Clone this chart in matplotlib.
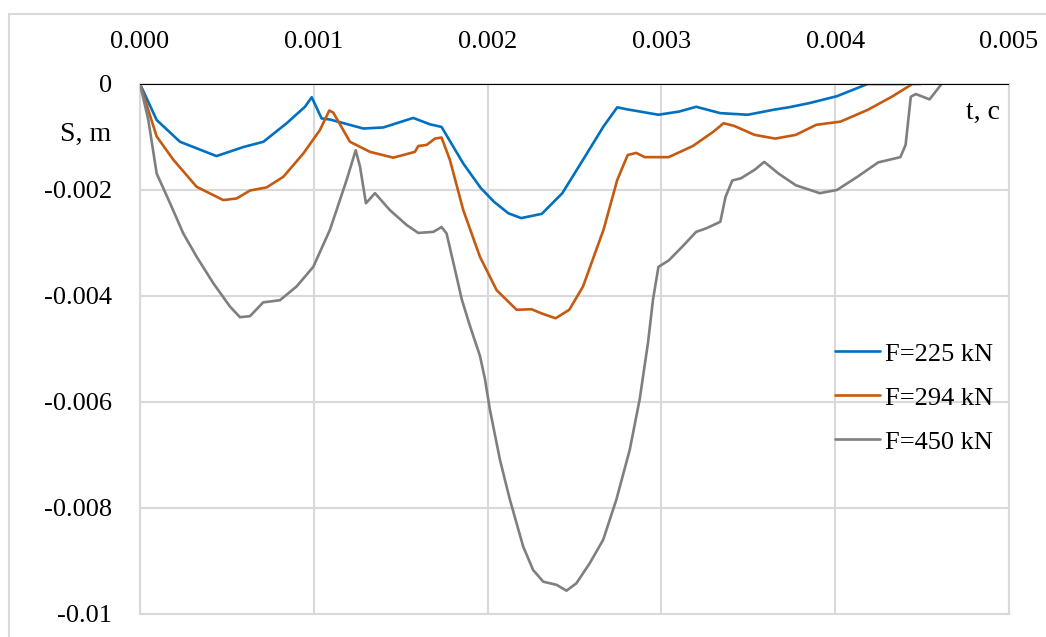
import matplotlib.pyplot as plt
from matplotlib.patches import Rectangle

# data (t in s, S in m)
t_225 = [0, 0.000096, 0.00023, 0.00044, 0.000594, 0.00071, 0.000844, 0.000949,
         0.000988, 0.001045, 0.001093, 0.001285, 0.0014, 0.001572, 0.001668,
         0.001735, 0.00186, 0.00196, 0.002036, 0.00212, 0.002193, 0.002312,
         0.00243, 0.002549, 0.002667, 0.002746, 0.002806, 0.002983, 0.003102,
         0.0032, 0.003339, 0.003497, 0.003655, 0.003733, 0.003852, 0.00401,
         0.004186, 0.004405]
s_225 = [0, -0.00068, -0.00109, -0.00136, -0.00119, -0.00109, -0.00074, -0.00043,
         -0.00025, -0.00065, -0.00067, -0.00084, -0.00082, -0.00064, -0.00076,
         -0.00081, -0.0015, -0.00196, -0.00222, -0.00244, -0.00253, -0.00245,
         -0.00206, -0.00143, -0.0008, -0.00044, -0.00048, -0.00058, -0.00052,
         -0.00043, -0.00055, -0.00058, -0.00048, -0.00044, -0.00036, -0.00023,
         0, 0]

t_294 = [0, 0.000096, 0.000192, 0.000326, 0.000479, 0.000556, 0.000633, 0.000729,
         0.000825, 0.00094, 0.001035, 0.001089, 0.001112, 0.001208, 0.001323,
         0.001457, 0.001582, 0.001601, 0.001649, 0.001697, 0.001735, 0.001783,
         0.00186, 0.001956, 0.002052, 0.002167, 0.002253, 0.002312, 0.002391,
         0.00247, 0.002549, 0.002667, 0.002746, 0.002806, 0.002855, 0.002904,
         0.003042, 0.003181, 0.003299, 0.003358, 0.003418, 0.003536, 0.003655,
         0.003773, 0.003891, 0.00403, 0.004186, 0.004326, 0.004444, 0.004494]
s_294 = [0, -0.00099, -0.00143, -0.00194, -0.00219, -0.00216, -0.00201, -0.00195,
         -0.00175, -0.00131, -0.00087, -0.0005, -0.00054, -0.00109, -0.00128,
         -0.00139, -0.00128, -0.00117, -0.00115, -0.00103, -0.00101, -0.00143,
         -0.00238, -0.00326, -0.00389, -0.00426, -0.00425, -0.00433, -0.00442,
         -0.00426, -0.00382, -0.00275, -0.00181, -0.00134, -0.0013, -0.00138,
         -0.00138, -0.00117, -0.0009, -0.00074, -0.00079, -0.00096, -0.00103,
         -0.00096, -0.00077, -0.00071, -0.00049, -0.00024, 0, 0]

t_450 = [0, 0.000048, 0.000096, 0.000173, 0.000249, 0.000326, 0.000422, 0.000518,
         0.000575, 0.000633, 0.000709, 0.000805, 0.000901, 0.000997, 0.001093,
         0.001189, 0.001241, 0.001266, 0.0013, 0.001352, 0.001438, 0.001534,
         0.001601, 0.001688, 0.001735, 0.001764, 0.001822, 0.001851, 0.001898,
         0.001956, 0.001985, 0.002013, 0.002071, 0.002128, 0.002205, 0.002262,
         0.00232, 0.002397, 0.002454, 0.002511, 0.002588, 0.002665, 0.002741,
         0.002818, 0.002875, 0.002923, 0.002952, 0.002983, 0.003042, 0.00312,
         0.0032, 0.00326, 0.003339, 0.003369, 0.003408, 0.003457, 0.003536,
         0.003592, 0.003674, 0.003773, 0.003911, 0.00401, 0.004128, 0.004247,
         0.004375, 0.004405, 0.004435, 0.004464, 0.004543, 0.004612]
s_450 = [0, -0.00068, -0.00169, -0.00225, -0.00282, -0.00326, -0.00376, -0.0042,
         -0.0044, -0.00438, -0.00412, -0.00408, -0.00382, -0.00345, -0.00275,
         -0.00181, -0.00125, -0.00156, -0.00225, -0.00206, -0.00238, -0.00266,
         -0.00281, -0.00279, -0.0027, -0.00282, -0.00364, -0.00406, -0.00456,
         -0.00513, -0.00557, -0.00614, -0.00709, -0.00784, -0.00873, -0.00917,
         -0.00939, -0.00945, -0.00956, -0.00942, -0.00904, -0.0086, -0.00784,
         -0.0069, -0.00595, -0.00488, -0.00406, -0.00345, -0.00333, -0.00307,
         -0.00279, -0.00272, -0.0026, -0.00213, -0.00182, -0.00178, -0.00162,
         -0.00147, -0.00169, -0.00191, -0.00206, -0.002, -0.00175, -0.00148,
         -0.00138, -0.00115, -0.00024, -0.00019, -0.00029, 0]

x_ticks = [0, 0.001, 0.002, 0.003, 0.004, 0.005]
x_labels = ['0.000', '0.001', '0.002', '0.003', '0.004', '0.005']
y_ticks = [0, -0.002, -0.004, -0.006, -0.008, -0.01]
y_labels = ['0', '-0.002', '-0.004', '-0.006', '-0.008', '-0.01']

plt.rcParams['font.family'] = ['Liberation Serif', 'DejaVu Serif']

fig = plt.figure(figsize=(10.46, 6.37), dpi=100)
ax = fig.add_axes([140/1046, 1 - 614/637, 869/1046, 530/637])

grid_c = '#d9d9d9'
line_kw = dict(lw=1.9, zorder=3, solid_joinstyle='round', solid_capstyle='round')
ax.plot(t_225, s_225, color='#0070C0', label='F=225 kN', **line_kw)
ax.plot(t_294, s_294, color='#C55A11', label='F=294 kN', **line_kw)
ax.plot(t_450, s_450, color='#7F7F7F', label='F=450 kN', **line_kw)
ax.axhline(0, color='black', lw=1.5, zorder=4)

ax.set_xlim(0, 0.005)
ax.set_ylim(-0.01, 0)
ax.xaxis.tick_top()
ax.set_xticks(x_ticks)
ax.set_xticklabels(x_labels)
ax.set_yticks(y_ticks)
ax.set_yticklabels(y_labels)
ax.tick_params(axis='both', length=0, labelsize=19)
ax.tick_params(axis='x', pad=22)
ax.tick_params(axis='y', pad=20)
ax.grid(True, color=grid_c, lw=1.5)
ax.set_axisbelow(True)
for sp in ax.spines.values():
    sp.set_color(grid_c)
    sp.set_linewidth(1.5)

ax.text(0.99, 0.947, 't, c', transform=ax.transAxes, ha='right', va='center', fontsize=20)
ax.text(-0.063, 0.904, 'S, m', transform=ax.transAxes, ha='center', va='center', fontsize=20)

ax.legend(loc='upper left', bbox_to_anchor=(0.80, 0.513), frameon=False, fontsize=19,
          handlelength=1.7, handletextpad=0.2, labelspacing=0.78,
          borderaxespad=0, borderpad=0)

fig.patches.append(Rectangle((9/1046, -0.05), 1.2, 1 - 14/637 + 0.05,
                             transform=fig.transFigure, fill=False,
                             edgecolor=grid_c, lw=1.5))

fig.savefig('out.png', dpi=100)
